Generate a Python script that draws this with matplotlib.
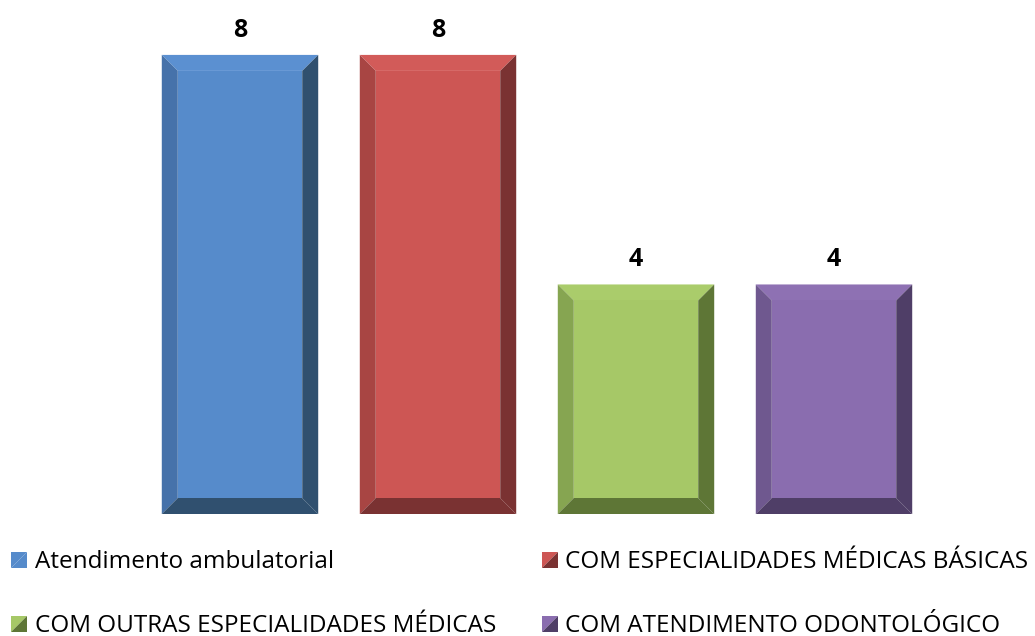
import matplotlib
matplotlib.use("Agg")
import matplotlib.pyplot as plt
from matplotlib.patches import Polygon

categories = ["Atendimento ambulatorial", "COM ESPECIALIDADES MÉDICAS BÁSICAS",
              "COM OUTRAS ESPECIALIDADES MÉDICAS", "COM ATENDIMENTO ODONTOLÓGICO"]
values = [8, 8, 4, 4]
labels = ["8", "8", "4", "4"]

# face, top, left, right/bottom
palette = [
    ("#568BCB", "#5B90D1", "#4672AA", "#30506F"),
    ("#CD5654", "#D25B59", "#A84543", "#7A3232"),
    ("#A6C867", "#AACC6B", "#86A551", "#5E7636"),
    ("#8A6DAF", "#8E71B3", "#6F588F", "#4F3E67"),
]

W, H = 1035, 636
fig = plt.figure(figsize=(W / 100, H / 100), dpi=100)
ax = fig.add_axes([141 / W, 1 - 514 / H, (933 - 141) / W, (514 - 9) / H])
ax.set_xlim(-0.5, len(values) - 0.5)
ax.set_ylim(0, 8.8)
ax.axis("off")

bw = 0.79
bev_px = 16
# convert bevel size in pixels into data units
dx = bev_px / (ax.get_position().width * W) * (ax.get_xlim()[1] - ax.get_xlim()[0])
dy = bev_px / (ax.get_position().height * H) * (ax.get_ylim()[1] - ax.get_ylim()[0])

for i, (v, lab, cols) in enumerate(zip(values, labels, palette)):
    face, top, left, dark = cols
    x0, x1 = i - bw / 2, i + bw / 2
    y0, y1 = 0, v
    ax.add_patch(Polygon([(x0, y1), (x1, y1), (x1 - dx, y1 - dy), (x0 + dx, y1 - dy)], closed=True, fc=top, ec="none"))
    ax.add_patch(Polygon([(x0, y0), (x0, y1), (x0 + dx, y1 - dy), (x0 + dx, y0 + dy)], closed=True, fc=left, ec="none"))
    ax.add_patch(Polygon([(x1, y0), (x1, y1), (x1 - dx, y1 - dy), (x1 - dx, y0 + dy)], closed=True, fc=dark, ec="none"))
    ax.add_patch(Polygon([(x0, y0), (x1, y0), (x1 - dx, y0 + dy), (x0 + dx, y0 + dy)], closed=True, fc=dark, ec="none"))
    ax.add_patch(Polygon([(x0 + dx, y0 + dy), (x1 - dx, y0 + dy), (x1 - dx, y1 - dy), (x0 + dx, y1 - dy)], closed=True, fc=face, ec="none"))
    ax.annotate(lab, (i, v), xytext=(0, 13), textcoords="offset points", ha="center", va="baseline",
                fontsize=18, fontweight="bold", family="Open Sans", color="#000000", annotation_clip=False)

# legend (manual, 2 columns)
leg_pos = [(11, 560), (542, 560), (11, 624), (542, 624)]
text_x = [35, 565, 35, 565]
ms = 16
for (px, py), tx, name, cols in zip(leg_pos, text_x, categories, palette):
    face, top, left, dark = cols
    xa, xb = px / W, (px + ms) / W
    ya, yb = 1 - (py + ms / 2) / H, 1 - (py - ms / 2) / H
    fig.patches.append(Polygon([(xa, ya), (xa, yb), (xb, yb)], closed=True, fc=face, ec="none", transform=fig.transFigure))
    fig.patches.append(Polygon([(xa, ya), (xb, ya), (xb, yb)], closed=True, fc=dark if name != categories[0] else face,
                               ec="none", transform=fig.transFigure))
    fig.text(tx / W, 1 - (py + 8.5) / H, name, fontsize=17.5, family="Open Sans", va="baseline", ha="left", color="#000000")

fig.savefig("out.png", dpi=100)
